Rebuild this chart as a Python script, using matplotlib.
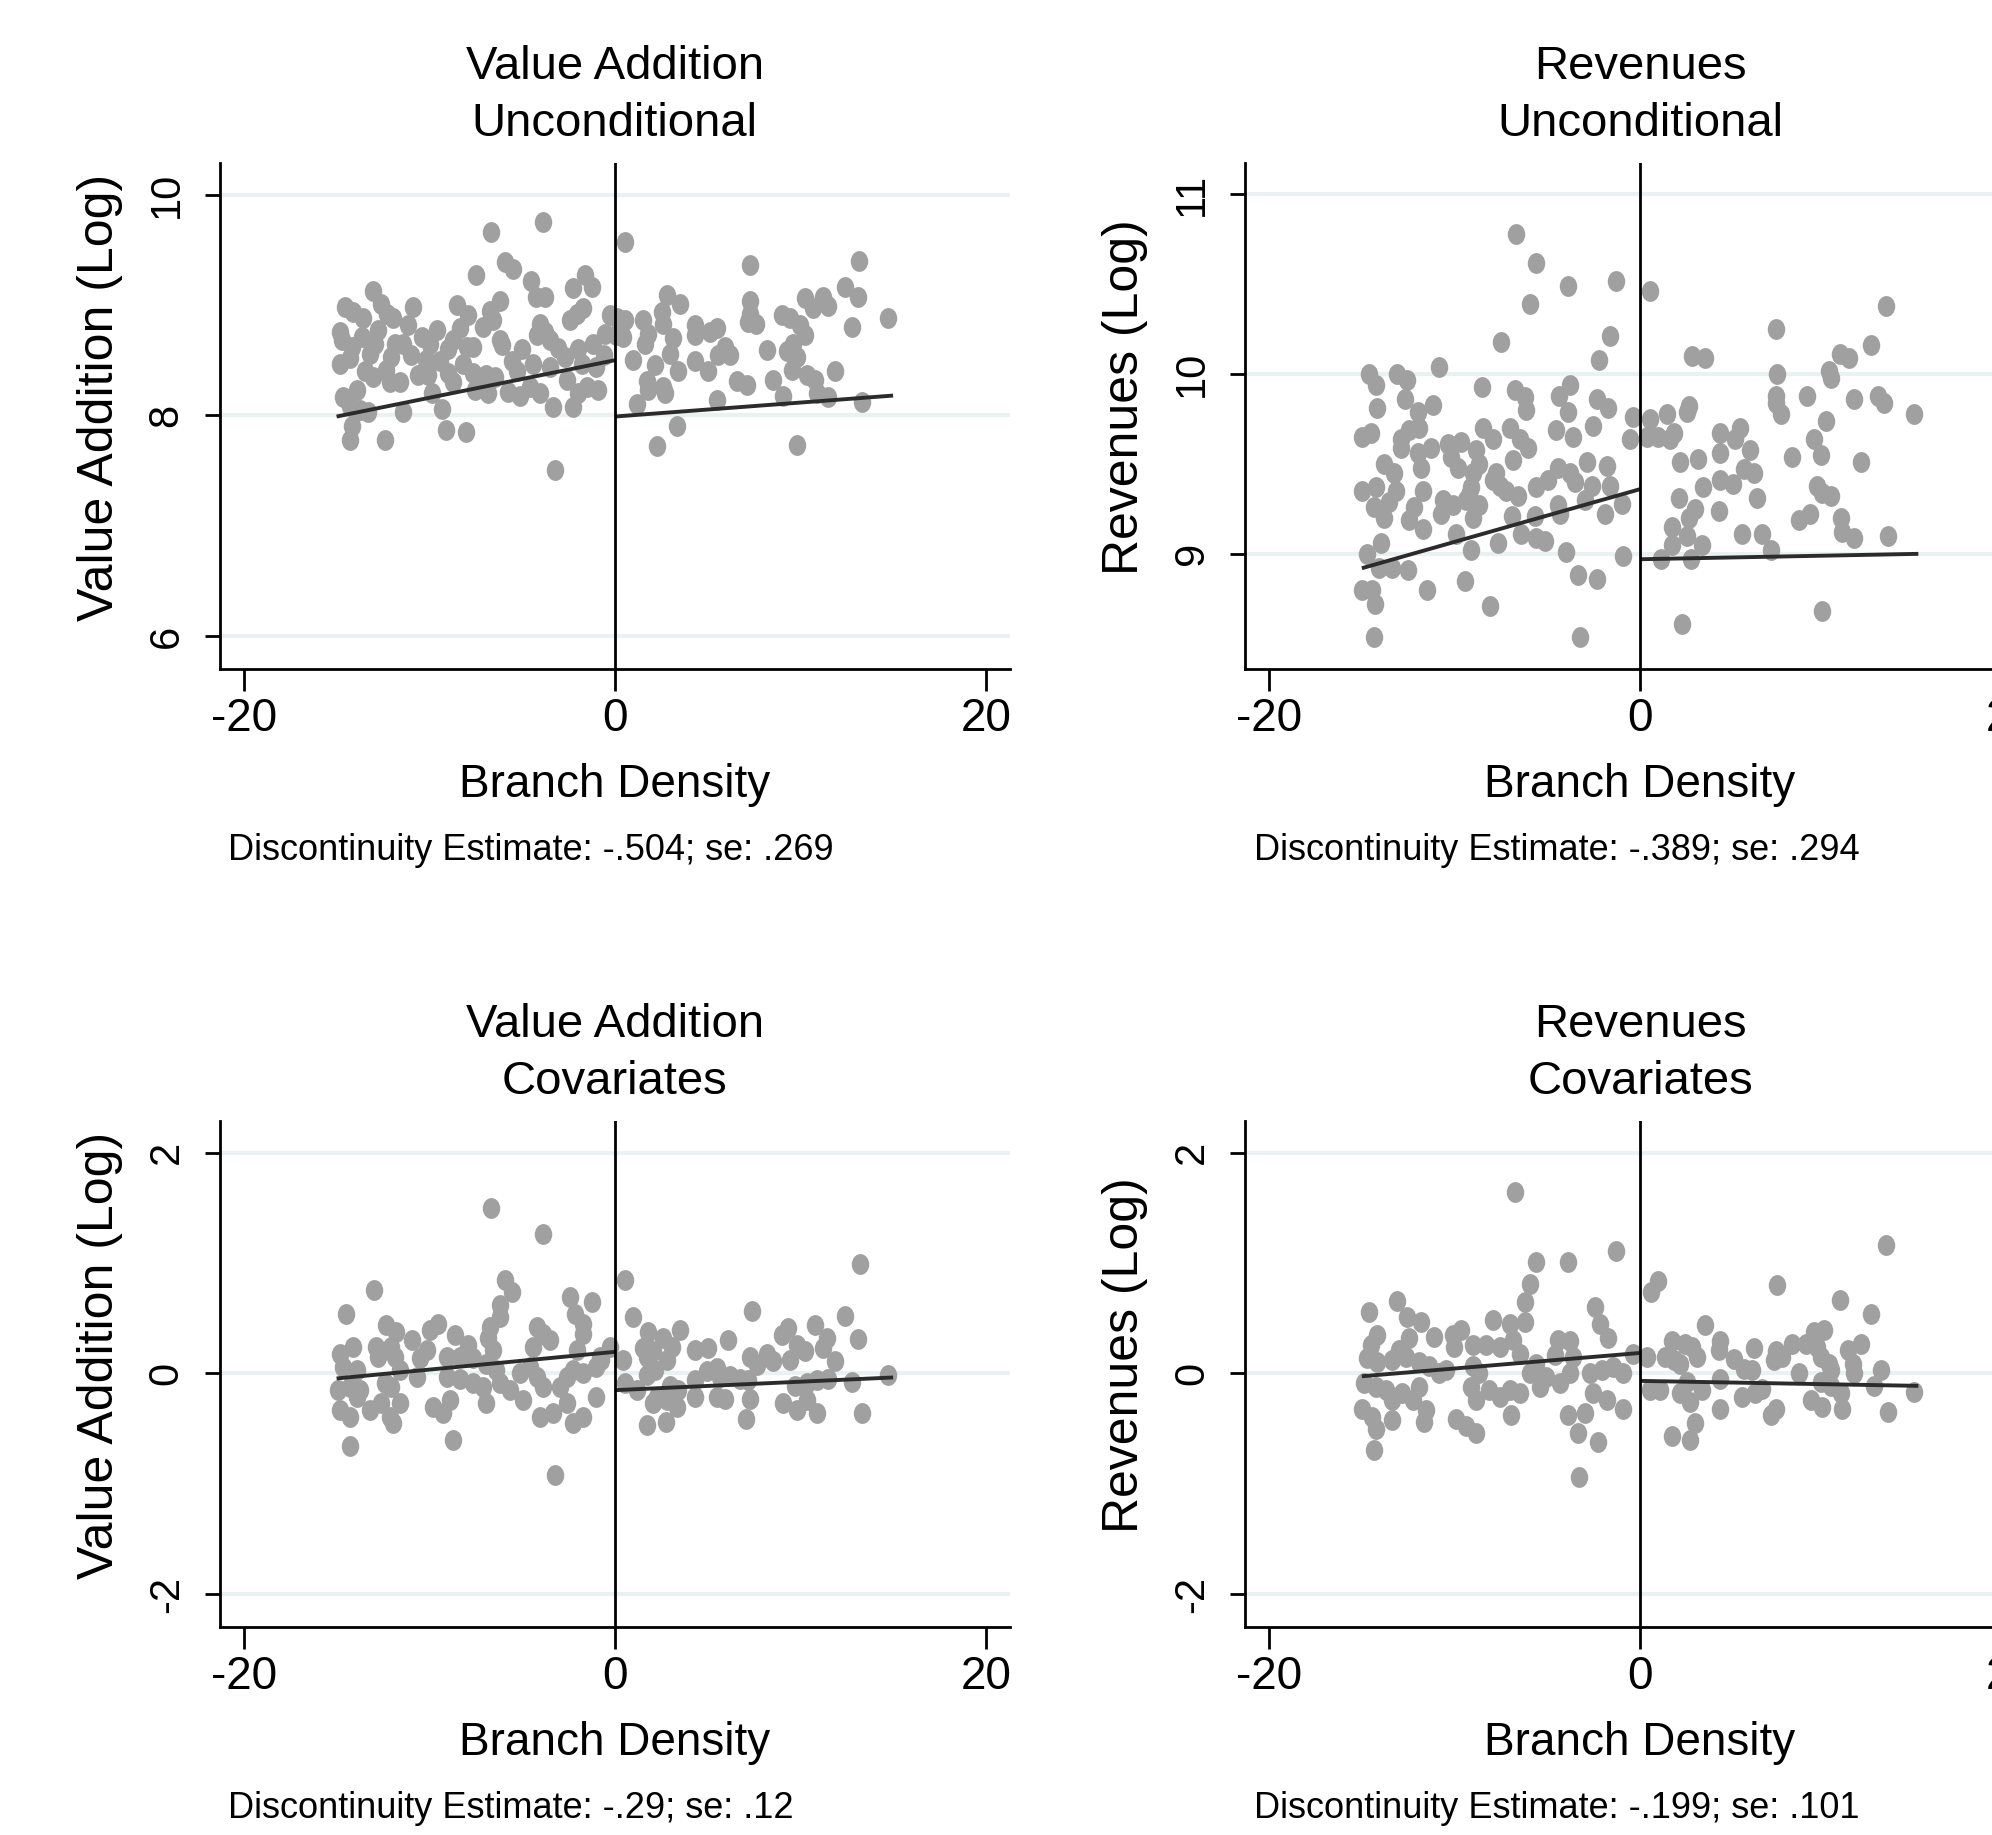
import matplotlib
matplotlib.use("Agg")
import matplotlib.pyplot as plt
from matplotlib.path import Path
import numpy as np

plt.rcParams["axes.unicode_minus"] = False

# ---- data ----
titles = [("Value Addition", "Unconditional"), ("Revenues", "Unconditional"),
          ("Value Addition", "Covariates"), ("Revenues", "Covariates")]
ylabels = ["Value Addition (Log)", "Revenues (Log)", "Value Addition (Log)", "Revenues (Log)"]
estimates = ["Discontinuity Estimate: -.504; se: .269", "Discontinuity Estimate: -.389; se: .294",
             "Discontinuity Estimate: -.29; se: .12", "Discontinuity Estimate: -.199; se: .101"]
yticks = [[6, 8, 10], [9, 10, 11], [-2, 0, 2], [-2, 0, 2]]
ylims = [(5.70, 10.29), (8.357, 11.177), (-2.30, 2.29), (-2.30, 2.29)]
xticks = [-20, 0, 20]

# fitted lines (left of cutoff, right of cutoff)
fit_x_left = [-15, 0]
fit_x_right = [0, 15]
fit_left = [[7.99, 8.50], [8.92, 9.36], [-0.045, 0.196], [-0.025, 0.186]]
fit_right = [[7.99, 8.18], [8.97, 9.00], [-0.151, -0.036], [-0.067, -0.112]]

# value addition, unconditional
va_unc = [
    (-3.86, 9.75), (-6.68, 9.66), (-5.93, 9.39), (-5.51, 9.33), (-7.49, 9.27), (-4.53, 9.22),
    (-4.26, 9.07), (-3.77, 9.07), (-1.61, 9.27), (-2.24, 9.15), (-1.25, 9.16), (-13.02, 9.13),
    (-14.55, 8.98), (-14.1, 8.94), (-12.58, 9.01), (-10.87, 8.98), (-8.53, 9.0), (-7.9, 8.91),
    (-6.74, 8.95), (-6.2, 9.04), (-6.56, 8.86), (-7.1, 8.8), (-11.95, 8.88), (-11.14, 8.82),
    (-2.06, 8.92), (-1.7, 8.97), (-2.42, 8.86), (-0.27, 8.91), (-4.04, 8.83), (-3.77, 8.76),
    (-4.22, 8.73), (-0.54, 8.74), (-14.82, 8.76), (-14.73, 8.68), (-14.19, 8.62), (-13.65, 8.71),
    (-12.76, 8.77), (-12.94, 8.65), (-13.2, 8.56), (-11.86, 8.65), (-11.41, 8.65), (-12.04, 8.53),
    (-10.42, 8.71), (-9.97, 8.65), (-9.61, 8.77), (-8.71, 8.68), (-8.35, 8.79), (-7.99, 8.62),
    (-7.63, 8.62), (-6.2, 8.68), (-6.1, 8.64), (-3.5, 8.68), (-3.05, 8.61), (-2.69, 8.53),
    (-4.4, 8.47), (-3.5, 8.44), (-1.79, 8.47), (-0.99, 8.44), (-14.82, 8.47), (-14.28, 8.52),
    (-13.47, 8.4), (-13.02, 8.35), (-12.31, 8.41), (-12.13, 8.30), (-11.59, 8.30), (-10.6, 8.37),
    (-10.06, 8.37), (-9.43, 8.49), (-8.98, 8.38), (-8.71, 8.30), (-8.17, 8.47), (-7.63, 8.38),
    (-6.92, 8.37), (-6.47, 8.35), (-5.57, 8.49), (-7.54, 8.23), (-6.83, 8.2), (-5.75, 8.21),
    (-5.12, 8.18), (-4.58, 8.26), (-4.04, 8.2), (-2.6, 8.32), (-1.52, 8.26), (-0.9, 8.23),
    (-1.97, 8.2), (-9.88, 8.2), (-9.34, 8.06), (-3.32, 8.08), (-2.24, 8.08), (-14.64, 8.17),
    (-13.92, 8.23), (-14.28, 8.09), (-13.74, 8.05), (-13.29, 8.03), (-11.41, 8.03), (-14.19, 7.9),
    (-14.28, 7.78), (-12.4, 7.78), (-9.11, 7.87), (-8.03, 7.85), (-3.23, 7.51),
    (-11.0, 8.55), (-10.2, 8.5), (-9.0, 8.6), (-5.0, 8.6), (-5.3, 8.4), (-2.0, 8.6),
    (-1.2, 8.65), (-0.6, 8.55), (-13.6, 8.88), (-12.3, 8.92),
    (0.55, 9.57), (7.28, 9.36), (13.18, 9.40), (12.4, 9.16), (13.12, 9.07), (10.25, 9.06),
    (10.7, 8.97), (11.24, 9.07), (11.51, 8.99), (7.28, 9.04), (7.28, 8.92), (7.19, 8.85),
    (7.59, 8.83), (9.0, 8.91), (9.44, 8.88), (9.98, 8.82), (10.25, 8.73), (12.76, 8.80),
    (14.74, 8.88), (2.79, 9.09), (2.52, 8.94), (2.61, 8.83), (3.51, 9.01), (0.55, 8.86),
    (0.45, 8.71), (1.53, 8.86), (1.8, 8.74), (1.62, 8.65), (3.15, 8.7), (2.97, 8.56),
    (4.32, 8.82), (4.32, 8.73), (5.13, 8.76), (5.49, 8.79), (5.94, 8.62), (5.58, 8.55),
    (6.21, 8.55), (8.18, 8.59), (9.62, 8.65), (9.26, 8.58), (9.8, 8.53), (0.99, 8.50),
    (2.16, 8.46), (4.32, 8.49), (5.04, 8.4), (3.42, 8.4), (1.71, 8.31), (1.8, 8.23),
    (2.61, 8.26), (2.7, 8.2), (6.56, 8.31), (7.1, 8.28), (8.54, 8.32), (9.53, 8.41),
    (10.34, 8.37), (10.79, 8.32), (11.87, 8.4), (10.88, 8.2), (11.51, 8.17), (9.08, 8.18),
    (5.49, 8.14), (13.3, 8.12), (1.17, 8.10), (3.33, 7.9), (2.25, 7.72), (9.8, 7.73),
    (0.1, 8.88), (0.05, 8.73),
]

# revenues, unconditional
rev_unc = [
    (-6.71, 10.78), (-5.6, 10.62), (-3.88, 10.49), (-1.3, 10.52), (-5.96, 10.39), (-7.49, 10.18),
    (-1.63, 10.21), (-2.2, 10.08), (-14.61, 10.0), (-14.22, 9.94), (-13.08, 10.0), (-12.54, 9.97),
    (-10.86, 10.04), (-14.16, 9.81), (-12.67, 9.86), (-12.0, 9.79), (-11.15, 9.83), (-8.54, 9.93),
    (-6.77, 9.91), (-6.23, 9.87), (-6.17, 9.8), (-4.37, 9.88), (-3.79, 9.94), (-3.88, 9.79),
    (-4.55, 9.69), (-3.61, 9.65), (-2.35, 9.86), (-1.72, 9.81), (-2.53, 9.71), (-0.37, 9.76),
    (-0.55, 9.64), (-14.97, 9.65), (-14.52, 9.67), (-12.9, 9.64), (-12.45, 9.69), (-11.91, 9.7),
    (-12.9, 9.59), (-12.0, 9.56), (-11.83, 9.48), (-11.28, 9.59), (-10.38, 9.61), (-9.65, 9.62),
    (-10.2, 9.54), (-9.83, 9.48), (-8.84, 9.58), (-8.48, 9.7), (-7.94, 9.64), (-8.66, 9.5),
    (-9.02, 9.45), (-7.04, 9.7), (-6.5, 9.64), (-6.05, 9.59), (-6.86, 9.52), (-13.8, 9.5),
    (-13.26, 9.45), (-14.97, 9.35), (-14.25, 9.37), (-13.17, 9.35), (-13.53, 9.29), (-14.34, 9.26),
    (-13.8, 9.2), (-11.73, 9.35), (-12.18, 9.26), (-12.45, 9.19), (-11.73, 9.14), (-10.65, 9.3),
    (-10.11, 9.27), (-10.74, 9.22), (-9.38, 9.3), (-8.66, 9.27), (-9.02, 9.2), (-7.94, 9.41),
    (-7.58, 9.38), (-7.22, 9.35), (-6.59, 9.32), (-7.76, 9.45), (-9.11, 9.37), (-9.2, 9.33),
    (-6.89, 9.21), (-6.41, 9.11), (-5.63, 9.09), (-5.15, 9.07), (-5.6, 9.37), (-4.96, 9.41),
    (-4.42, 9.48), (-3.79, 9.45), (-3.52, 9.4), (-5.69, 9.21), (-4.42, 9.27), (-4.33, 9.22),
    (-2.89, 9.51), (-2.62, 9.38), (-1.81, 9.49), (-1.63, 9.38), (-2.98, 9.3), (-1.9, 9.22),
    (-1.0, 9.28), (-9.92, 9.11), (-9.11, 9.02), (-7.67, 9.06), (-14.7, 9.0), (-13.98, 9.06),
    (-14.07, 8.92), (-13.35, 8.92), (-12.49, 8.91), (-4.01, 9.01), (-0.91, 8.99), (-14.97, 8.8),
    (-14.43, 8.8), (-14.29, 8.72), (-11.51, 8.8), (-9.42, 8.85), (-8.07, 8.71), (-3.34, 8.88),
    (-2.3, 8.86), (-14.34, 8.54), (-3.25, 8.54),
    (0.54, 10.46), (13.26, 10.38), (7.31, 10.25), (12.45, 10.16), (2.8, 10.1), (3.52, 10.09),
    (10.79, 10.11), (11.27, 10.09), (10.19, 10.02), (10.28, 9.98), (7.36, 10.0), (7.31, 9.88),
    (7.31, 9.84), (7.58, 9.78), (9.02, 9.88), (11.54, 9.86), (12.81, 9.88), (13.17, 9.84),
    (14.79, 9.78), (0.54, 9.75), (1.44, 9.78), (2.53, 9.79), (2.62, 9.82), (0.36, 9.65),
    (0.99, 9.65), (1.62, 9.64), (1.8, 9.67), (4.33, 9.67), (5.14, 9.64), (5.41, 9.7),
    (5.95, 9.58), (10.01, 9.74), (9.38, 9.64), (9.74, 9.55), (8.21, 9.54), (11.9, 9.51),
    (2.16, 9.51), (3.1, 9.53), (4.33, 9.56), (5.59, 9.47), (6.13, 9.45), (3.39, 9.37),
    (4.33, 9.41), (5.01, 9.39), (6.28, 9.31), (2.07, 9.31), (2.98, 9.25), (2.62, 9.2),
    (4.24, 9.24), (9.56, 9.38), (9.83, 9.34), (10.28, 9.32), (8.57, 9.19), (9.16, 9.22),
    (10.82, 9.2), (10.91, 9.12), (11.54, 9.09), (13.35, 9.1), (1.71, 9.15), (2.53, 9.1),
    (1.71, 9.05), (3.34, 9.05), (5.5, 9.11), (6.58, 9.11), (7.07, 9.02), (1.12, 8.97),
    (2.74, 8.97), (2.25, 8.61), (9.83, 8.68),
]

# value addition, covariates
va_cov = [
    (-6.68, 1.50), (-3.86, 1.26), (-12.99, 0.76), (-5.93, 0.845), (-5.57, 0.74), (-6.2, 0.62),
    (-6.2, 0.51), (-2.42, 0.69), (-1.25, 0.65), (-2.15, 0.54), (-1.7, 0.45), (-1.7, 0.36),
    (-14.5, 0.54), (-12.31, 0.44), (-11.77, 0.38), (-10.96, 0.30), (-9.97, 0.39), (-9.52, 0.45),
    (-8.62, 0.35), (-7.9, 0.26), (-6.74, 0.42), (-6.83, 0.32), (-6.56, 0.21), (-4.22, 0.42),
    (-3.86, 0.36), (-3.5, 0.30), (-4.4, 0.24), (-2.06, 0.21), (-0.81, 0.15), (-0.27, 0.24),
    (-14.82, 0.18), (-14.1, 0.24), (-14.64, 0.06), (-13.92, 0.03), (-12.85, 0.24), (-12.76, 0.15),
    (-12.04, 0.24), (-11.86, 0.15), (-11.59, 0.03), (-10.51, 0.14), (-10.15, 0.21), (-10.69, -0.03),
    (-9.07, 0.15), (-8.35, 0.15), (-7.63, 0.14), (-6.92, 0.09), (-6.38, 0.03), (-9.07, -0.03),
    (-8.35, -0.05), (-7.63, -0.09), (-7.1, -0.12), (-6.92, -0.27), (-6.2, -0.09), (-5.66, -0.15),
    (-5.12, 0.0), (-4.94, -0.24), (-4.58, 0.06), (-4.22, -0.03), (-3.86, -0.12), (-2.96, -0.12),
    (-2.6, -0.03), (-2.24, 0.03), (-1.7, 0.0), (-0.99, 0.06), (-0.72, 0.12), (-14.91, -0.15),
    (-14.28, -0.12), (-13.74, -0.15), (-13.92, -0.21), (-14.82, -0.33), (-14.28, -0.39), (-13.2, -0.33),
    (-12.58, -0.27), (-12.13, -0.39), (-11.59, -0.27), (-11.95, -0.45), (-12.4, -0.09), (-12.04, -0.12),
    (-9.79, -0.30), (-9.25, -0.36), (-8.89, -0.24), (-4.04, -0.39), (-3.32, -0.36), (-2.6, -0.27),
    (-2.24, -0.45), (-1.7, -0.39), (-0.99, -0.21), (-14.28, -0.66), (-8.71, -0.60), (-3.23, -0.92),
    (0.55, 0.85), (13.21, 0.99), (7.37, 0.57), (12.4, 0.52), (0.96, 0.51), (1.8, 0.38),
    (2.61, 0.32), (3.51, 0.39), (3.06, 0.24), (1.53, 0.23), (2.07, 0.20), (1.71, 0.15),
    (2.79, 0.12), (0.45, 0.12), (4.32, 0.21), (5.04, 0.23), (6.12, 0.30), (7.28, 0.15),
    (8.18, 0.18), (8.54, 0.11), (7.64, 0.08), (9.0, 0.35), (9.35, 0.41), (9.8, 0.26),
    (10.25, 0.20), (9.44, 0.12), (10.79, 0.44), (11.42, 0.32), (11.24, 0.23), (11.87, 0.11),
    (13.12, 0.31), (14.74, -0.015), (1.71, -0.015), (2.16, 0.03), (0.55, -0.09), (1.17, -0.15),
    (2.97, -0.11), (3.42, -0.15), (4.32, -0.06), (4.95, 0.02), (5.49, 0.05), (5.67, -0.03),
    (6.21, -0.02), (6.74, -0.05), (7.19, -0.06), (2.25, -0.21), (2.79, -0.24), (3.33, -0.30),
    (2.07, -0.27), (4.32, -0.21), (5.49, -0.21), (5.94, -0.23), (7.28, -0.23), (9.71, -0.11),
    (10.34, -0.09), (10.88, -0.06), (11.51, -0.05), (12.76, -0.08), (9.08, -0.27), (9.8, -0.33),
    (10.34, -0.24), (10.88, -0.36), (13.3, -0.36), (1.71, -0.47), (2.75, -0.44), (7.07, -0.41),
]

# revenues, covariates
rev_cov = [
    (-6.72, 1.64), (-1.31, 1.11), (-5.6, 1.01), (-3.88, 1.01), (-5.96, 0.81), (-6.23, 0.65),
    (-6.23, 0.47), (-13.08, 0.66), (-14.62, 0.56), (-7.94, 0.48), (-2.44, 0.60), (-2.17, 0.45),
    (-1.72, 0.32), (-12.54, 0.51), (-11.82, 0.47), (-14.17, 0.35), (-14.53, 0.26), (-14.71, 0.14),
    (-14.17, 0.10), (-12.45, 0.32), (-13.0, 0.21), (-13.35, 0.12), (-12.63, 0.15), (-11.1, 0.33),
    (-10.11, 0.35), (-9.66, 0.39), (-10.02, 0.24), (-11.91, 0.10), (-11.37, 0.07), (-10.83, 0.0),
    (-10.47, 0.03), (-9.02, 0.26), (-8.3, 0.26), (-7.58, 0.24), (-7.04, 0.45), (-6.86, 0.30),
    (-6.5, 0.18), (-9.02, 0.07), (-8.66, 0.0), (-9.11, -0.12), (-8.84, -0.24), (-8.12, -0.15),
    (-7.58, -0.21), (-7.04, -0.15), (-6.5, -0.18), (-5.96, 0.0), (-5.6, 0.09), (-5.42, -0.12),
    (-5.06, -0.03), (-4.43, 0.30), (-3.8, 0.29), (-4.61, 0.17), (-3.61, 0.15), (-4.34, -0.09),
    (-3.8, 0.0), (-2.71, 0.0), (-2.08, 0.03), (-1.45, 0.06), (-0.91, 0.0), (-0.37, 0.18),
    (-14.89, -0.09), (-14.26, -0.12), (-13.72, -0.15), (-13.35, -0.24), (-12.82, -0.18), (-12.27, -0.24),
    (-11.91, -0.12), (-14.98, -0.32), (-14.44, -0.39), (-14.26, -0.50), (-13.35, -0.42), (-11.55, -0.33),
    (-11.64, -0.44), (-9.93, -0.41), (-9.39, -0.48), (-8.84, -0.54), (-6.95, -0.38), (-3.88, -0.38),
    (-2.98, -0.36), (-2.53, -0.18), (-1.81, -0.24), (-0.91, -0.32), (-3.34, -0.54), (-2.26, -0.62),
    (-14.35, -0.69), (-3.29, -0.94),
    (13.25, 1.16), (0.57, 0.74), (0.99, 0.84), (7.39, 0.80), (10.78, 0.67), (12.44, 0.54),
    (3.51, 0.44), (1.71, 0.29), (1.35, 0.15), (2.43, 0.27), (2.79, 0.24), (3.06, 0.15),
    (1.8, 0.12), (2.16, 0.09), (0.35, 0.15), (4.32, 0.29), (4.23, 0.21), (5.04, 0.13),
    (5.59, 0.04), (6.04, 0.03), (6.16, 0.23), (7.3, 0.20), (7.21, 0.12), (7.66, 0.15),
    (8.2, 0.27), (8.92, 0.27), (9.37, 0.38), (9.92, 0.39), (9.55, 0.24), (9.73, 0.15),
    (10.19, 0.09), (10.28, 0.03), (11.18, 0.21), (11.9, 0.27), (11.45, 0.09), (11.54, 0.0),
    (12.96, 0.03), (12.6, -0.11), (14.79, -0.17), (0.54, -0.15), (1.08, -0.15), (2.52, -0.08),
    (2.16, -0.18), (2.7, -0.26), (3.33, -0.15), (4.32, -0.05), (8.56, 0.0), (9.73, -0.08),
    (10.28, -0.11), (10.82, -0.18), (6.58, -0.14), (6.22, -0.18), (5.5, -0.21), (4.32, -0.32),
    (7.3, -0.32), (7.03, -0.38), (9.19, -0.24), (9.82, -0.30), (10.91, -0.32), (13.34, -0.35),
    (2.97, -0.45), (1.71, -0.57), (2.7, -0.60),
]

panels = [va_unc, rev_unc, va_cov, rev_cov]

# ---- styling / layout ----
FONT = ["Liberation Sans", "DejaVu Sans"]
dot_col = "#a0a0a0"
grid_col = "#eaf1f2"

# markers in the source are slightly taller than wide
circ = Path.unit_circle()
dot = Path(circ.vertices * np.array([0.84, 1.0]), circ.codes)

fig = plt.figure(figsize=(19.92, 18.35), dpi=100)
positions = [[0.1103, 0.6352, 0.3967, 0.2762], [0.625, 0.6352, 0.3967, 0.2762],
             [0.1103, 0.1131, 0.3967, 0.2762], [0.625, 0.1131, 0.3967, 0.2762]]

for i, pts in enumerate(panels):
    ax = fig.add_axes(positions[i])
    xs, ys = zip(*pts)
    ax.scatter(xs, ys, s=225, marker=dot, color=dot_col, linewidths=0, zorder=2)
    ax.plot(fit_x_left, fit_left[i], color="#2b2b2b", lw=2.8, zorder=3, solid_capstyle="butt")
    ax.plot(fit_x_right, fit_right[i], color="#2b2b2b", lw=2.8, zorder=3, solid_capstyle="butt")
    ax.axvline(0, color="black", lw=2, zorder=4)

    ax.set_xlim(-21.3, 21.3)
    ax.set_ylim(*ylims[i])
    ax.set_xticks(xticks)
    ax.set_yticks(yticks[i])
    ax.yaxis.grid(True, color=grid_col, lw=2.9)
    ax.set_axisbelow(True)
    for s in ["top", "right"]:
        ax.spines[s].set_visible(False)
    for s in ["left", "bottom"]:
        ax.spines[s].set_linewidth(2)

    ax.tick_params(axis="x", direction="out", length=15.6, width=2, pad=4)
    ax.tick_params(axis="y", direction="out", length=10.8, width=2, pad=13, labelrotation=90)
    for lab in ax.get_xticklabels():
        lab.set_fontfamily(FONT)
        lab.set_fontsize(33)
    for lab in ax.get_yticklabels():
        lab.set_fontfamily(FONT)
        lab.set_fontsize(30)
        lab.set_verticalalignment("center")

    ax.set_ylabel(ylabels[i], family=FONT, fontsize=36)
    ax.yaxis.set_label_coords(-0.123, 0.5376)

    ax.text(0.5, 1.165, titles[i][0], transform=ax.transAxes, ha="center", va="baseline",
            family=FONT, fontsize=34)
    ax.text(0.5, 1.0525, titles[i][1], transform=ax.transAxes, ha="center", va="baseline",
            family=FONT, fontsize=34)
    ax.text(0.5, -0.251, "Branch Density", transform=ax.transAxes, ha="center", va="baseline",
            family=FONT, fontsize=33)
    ax.text(0.0108, -0.376, estimates[i], transform=ax.transAxes, ha="left", va="baseline",
            family=FONT, fontsize=26)

fig.savefig("out.png", dpi=100)
